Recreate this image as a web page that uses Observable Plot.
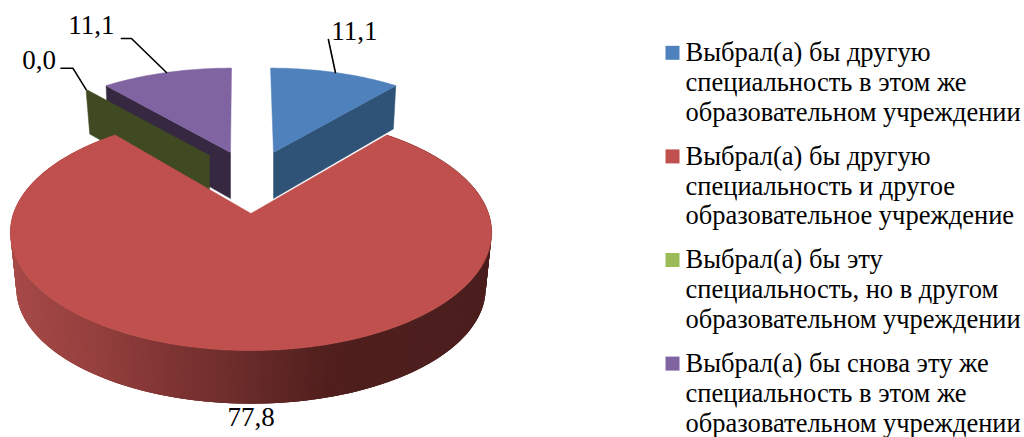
<!DOCTYPE html>
<html>
<head>
<meta charset="utf-8">
<script src="https://cdn.jsdelivr.net/npm/d3@7"></script>
<script src="https://cdn.jsdelivr.net/npm/@observablehq/plot@0.6"></script>
<style>html,body{margin:0;padding:0;background:#fff}svg{display:block}</style>
</head>
<body>
<div id="chart"></div>
<script>
const categories = [
  ["Выбрал(а) бы другую", "специальность в этом же", "образовательном учреждении"],
  ["Выбрал(а) бы другую", "специальность и другое", "образовательное учреждение"],
  ["Выбрал(а) бы эту", "специальность, но в другом", "образовательном учреждении"],
  ["Выбрал(а) бы снова эту же", "специальность в этом же", "образовательном учреждении"]
];
const values = [11.1, 77.8, 0, 11.1];
const valueLabels = ["11,1", "77,8", "0,0", "11,1"];
const topColors = ["#4f81bd", "#c0504d", "#9bbb59", "#8064a2"];
const wallColors = ["#2f5277", "#4f1f1e", "#3f4a22", "#352840"];

// Drawing geometry of each slice: cut-out offset, radii, wall depth, lean.
const K = 0.161;
const geometry = [
  {tx: 273, ty: 152, R: 218, S: 98, depth: 46, bR: 0.98, bS: 1.04, shear: 0.035},
  {tx: 250.5, ty: 213, R: 237.5, S: 115, depth: 56.5, bR: 0.975, bS: 0.975, shear: 0},
  {tx: 209, ty: 155, R: 216, S: 97, depth: 46, bR: 0.97, bS: 1.02, shear: 0},
  {tx: 230, ty: 152, R: 219, S: 98, depth: 46, bR: 0.985, bS: 1.04, shear: -0.012}
];
const sideStops = [[15, "#a64a47"], [100, "#933f3d"], [180, "#7c3332"], [250, "#682b29"], [330, "#501f1d"], [490, "#4b1f1e"]];
const labelOffsets = [[19, -41], [0, 14], [-47, -29], [-75, -47]];
const leaderElbows = [[[-7, -33]], [], [[-13, -21], [-25, -21]], [[-35, -34], [-45, -34]]];

const total = d3.sum(values);
function project(g, deg, wall) {
  const t = deg * Math.PI / 180, u = Math.sin(t), v = -Math.cos(t), w = 1 - K * v;
  let X = g.R * u / w, Y = g.S * v / w;
  X += g.shear * Y;
  if (wall) return [g.tx + X * g.bR, g.ty + g.depth + Y * g.bS];
  return [g.tx + X, g.ty + Y];
}
const sideColor = d3.scaleLinear().domain(sideStops.map(d => d[0])).range(sideStops.map(d => d[1])).interpolate(d3.interpolateRgb);

let acc = 0;
const slices = values.map((v, i) => {
  const a0 = acc / total * 360; acc += v; const a1 = acc / total * 360;
  return {i, a0, a1, g: geometry[i]};
});

const polys = [];
let pid = 0;
function addPoly(points, fill, stroke) {
  const id = pid++;
  const closed = points.concat([points[0]]);
  closed.forEach(p => polys.push({id, x: p[0], y: p[1], fill, stroke: stroke || fill}));
}
function arcPoints(g, a0, a1, wall) {
  const n = Math.max(1, Math.ceil(a1 - a0));
  return d3.range(n + 1).map(k => project(g, a0 + (a1 - a0) * k / n, wall));
}
function tip(g, wall) { return wall ? [g.tx, g.ty + g.depth] : [g.tx, g.ty]; }

// Back slices first, then front slice
[3, 2, 0].forEach(i => {
  const s = slices[i], g = s.g;
  const cutAngle = i === 0 ? s.a1 : s.a0;
  addPoly([tip(g), project(g, cutAngle), project(g, cutAngle, true), tip(g, true)], wallColors[i]);
  if (s.a1 > s.a0) addPoly([tip(g)].concat(arcPoints(g, s.a0, s.a1)), topColors[i]);
});
{
  const s = slices[1], g = s.g;
  // each wall strip overlaps the next one so that no seams show; the silhouette is kept by the bottom arc
  const step = 0.5;
  for (let a = s.a0; a < s.a1; a += step) {
    const b = Math.min(a + step * 3, s.a1);
    const p0 = project(g, a), p1 = project(g, b), q1 = project(g, b, true), q0 = project(g, a, true);
    const c = d3.color(sideColor(p0[0])).formatHex();
    addPoly([p0, p1, q1, q0], c, "none");
  }
  addPoly([tip(g)].concat(arcPoints(g, s.a0, s.a1)), topColors[1]);
}

// Leaders and value labels follow each slice's mid-angle
const leaders = [], labels = [];
slices.forEach(s => {
  const mid = (s.a0 + s.a1) / 2;
  const anchor = s.i === 1 ? project(s.g, mid, true) : project(s.g, mid);
  labels.push({x: anchor[0] + labelOffsets[s.i][0], y: anchor[1] + labelOffsets[s.i][1], text: valueLabels[s.i]});
  if (leaderElbows[s.i].length) {
    [anchor].concat(leaderElbows[s.i].map(o => [anchor[0] + o[0], anchor[1] + o[1]]))
      .forEach(p => leaders.push({id: s.i, x: p[0], y: p[1]}));
  }
});

// Legend rows
const legendX = 672, legendTextX = 685, legendTop = 52.3, legendStep = 103.6, lineStep = 29.8;
const legendMarks = categories.map((c, i) => ({x: legendX, y: legendTop + i * legendStep, fill: topColors[i]}));
const legendLines = categories.flatMap((c, i) => c.map((t, j) => ({x: legendTextX, y: legendTop + i * legendStep + j * lineStep, text: t})));

const font = "'Liberation Serif', 'Times New Roman', serif";
const chart = Plot.plot({
  width: 1024, height: 437,
  margin: 0,
  style: {background: "#fff", fontFamily: font},
  x: {domain: [0, 1024], range: [0, 1024], axis: null},
  y: {domain: [0, 437], range: [0, 437], axis: null},
  color: {type: "identity"},
  marks: [
    Plot.line(polys, {x: "x", y: "y", z: "id", fill: "fill", stroke: "stroke", strokeWidth: 0.5, curve: "linear"}),
    Plot.line(leaders, {x: "x", y: "y", z: "id", stroke: "#000", strokeWidth: 1.6}),
    Plot.text(labels, {x: "x", y: "y", text: "text", fontSize: 27, fill: "#000", textAnchor: "middle", lineAnchor: "middle"}),
    Plot.dot(legendMarks, {x: "x", y: "y", symbol: "square", r: 7.9, fill: "fill", stroke: "none"}),
    Plot.text(legendLines, {x: "x", y: "y", text: "text", fontSize: 26.5, fill: "#000", textAnchor: "start", lineAnchor: "middle"})
  ]
});
document.getElementById("chart").appendChild(chart);
</script>
</body>
</html>
